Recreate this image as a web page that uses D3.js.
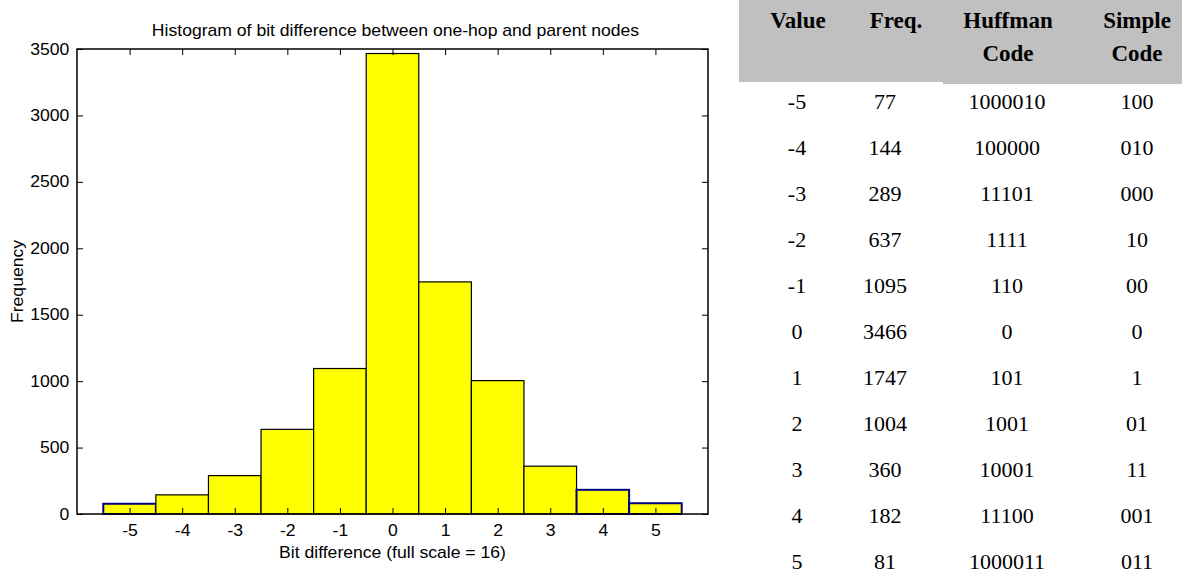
<!DOCTYPE html>
<html>
<head>
<meta charset="utf-8">
<script src="https://cdn.jsdelivr.net/npm/d3@7"></script>
<style>
  html, body { margin: 0; padding: 0; background: #fff; }
  svg { display: block; }
</style>
</head>
<body>
<svg id="chart" width="1182" height="578"></svg>
<script>
// Bit-difference values and their observed frequencies
const values = [-5, -4, -3, -2, -1, 0, 1, 2, 3, 4, 5];
const freqs = [77, 144, 289, 637, 1095, 3466, 1747, 1004, 360, 182, 81];
const huffmanCodes = ["1000010", "100000", "11101", "1111", "110", "0", "101", "1001", "10001", "11100", "1000011"];
const simpleCodes = ["100", "010", "000", "10", "00", "0", "1", "01", "11", "001", "011"];
const yTicks = [0, 500, 1000, 1500, 2000, 2500, 3000, 3500];
const xTicks = [-5, -4, -3, -2, -1, 0, 1, 2, 3, 4, 5];
const tableHeaders = [["Value"], ["Freq."], ["Huffman", "Code"], ["Simple", "Code"]];
// bins whose outline is drawn in navy
const navyEdged = [-5, 4, 5];

const svg = d3.select("#chart");
const sans = "Arial, 'Liberation Sans', sans-serif";
const serif = "'Times New Roman', 'Liberation Serif', serif";
const sansSize = 16;
const stretch = 1.1; // wide rendering of the plot lettering

// ---- Histogram ----
const plot = { left: 77, right: 708, top: 49, bottom: 514 };
const x = d3.scaleLinear().domain([-6, 6]).range([plot.left, plot.right]);
const y = d3.scaleLinear().domain([0, 3500]).range([plot.bottom, plot.top]);

const g = svg.append("g");

g.selectAll("rect.bar")
  .data(values.map((v, i) => ({ v, f: freqs[i] })))
  .join("rect")
  .attr("class", "bar")
  .attr("x", d => x(d.v - 0.5))
  .attr("width", d => x(d.v + 0.5) - x(d.v - 0.5))
  .attr("y", d => y(d.f))
  .attr("height", d => y(0) - y(d.f))
  .attr("fill", "#ffff00")
  .attr("stroke", d => navyEdged.includes(d.v) ? "#000080" : "#000")
  .attr("stroke-width", d => navyEdged.includes(d.v) ? 2 : 1.2);

const tickLen = 6;
const fmt = d => String(d); // plain hyphen for negatives
const axisStyle = sel => {
  sel.select(".domain").remove();
  sel.selectAll("line").attr("stroke", "#000").attr("stroke-width", 1);
  sel.selectAll("text").attr("font-family", sans).attr("font-size", sansSize).attr("fill", "#000");
};

g.append("g")
  .attr("transform", `translate(0,${plot.bottom})`)
  .call(d3.axisBottom(x).tickValues(xTicks).tickFormat(fmt).tickSize(-tickLen).tickPadding(11))
  .call(axisStyle)
  .selectAll("text").attr("transform", `scale(${stretch},1)`);
g.append("g")
  .attr("transform", `translate(0,${plot.top})`)
  .call(d3.axisTop(x).tickValues(xTicks).tickFormat("").tickSize(-tickLen))
  .call(axisStyle);
const yAx = g.append("g")
  .attr("transform", `translate(${plot.left},0)`)
  .call(d3.axisLeft(y).tickValues(yTicks).tickFormat(fmt).tickSize(-tickLen).tickPadding(7))
  .call(axisStyle);
yAx.selectAll("text").attr("transform", `scale(${stretch},1)`);
g.append("g")
  .attr("transform", `translate(${plot.right},0)`)
  .call(d3.axisRight(y).tickValues(yTicks).tickFormat("").tickSize(-tickLen))
  .call(axisStyle);

g.append("rect")
  .attr("x", plot.left).attr("y", plot.top)
  .attr("width", plot.right - plot.left).attr("height", plot.bottom - plot.top)
  .attr("fill", "none").attr("stroke", "#000").attr("stroke-width", 1.5);

const cx = (plot.left + plot.right) / 2;
g.append("text")
  .attr("transform", `translate(${cx + 3},36) scale(${stretch},1)`)
  .attr("text-anchor", "middle")
  .attr("font-family", sans).attr("font-size", sansSize)
  .text("Histogram of bit difference between one-hop and parent nodes");

g.append("text")
  .attr("transform", `translate(${cx},558) scale(${stretch},1)`)
  .attr("text-anchor", "middle")
  .attr("font-family", sans).attr("font-size", sansSize)
  .text("Bit difference (full scale = 16)");

g.append("text")
  .attr("transform", `translate(23,${(plot.top + plot.bottom) / 2}) rotate(-90) scale(${stretch},1)`)
  .attr("text-anchor", "middle")
  .attr("font-family", sans).attr("font-size", sansSize)
  .text("Frequency");

// ---- Code table ----
const headX = [798, 896, 1008, 1137];
const colX = [797, 885, 1007, 1137];
const t = svg.append("g");
t.append("rect").attr("x", 739).attr("y", 0).attr("width", 1182 - 739).attr("height", 82).attr("fill", "#c0c0c0");
t.append("rect").attr("x", 943).attr("y", 0).attr("width", 1182 - 943).attr("height", 84).attr("fill", "#c0c0c0");

tableHeaders.forEach((lines, c) => {
  lines.forEach((s, k) => {
    t.append("text")
      .attr("x", headX[c]).attr("y", 28 + k * 33)
      .attr("text-anchor", "middle")
      .attr("font-family", serif).attr("font-weight", "bold").attr("font-size", 23)
      .text(s);
  });
});

const rowY = d3.scalePoint().domain(values).range([109, 569]);
const rows = values.map((v, i) => [String(v), String(freqs[i]), huffmanCodes[i], simpleCodes[i]]);
rows.forEach((r, i) => {
  r.forEach((s, c) => {
    t.append("text")
      .attr("x", colX[c]).attr("y", rowY(values[i]))
      .attr("text-anchor", "middle")
      .attr("font-family", serif).attr("font-size", 22)
      .text(s);
  });
});
</script>
</body>
</html>
